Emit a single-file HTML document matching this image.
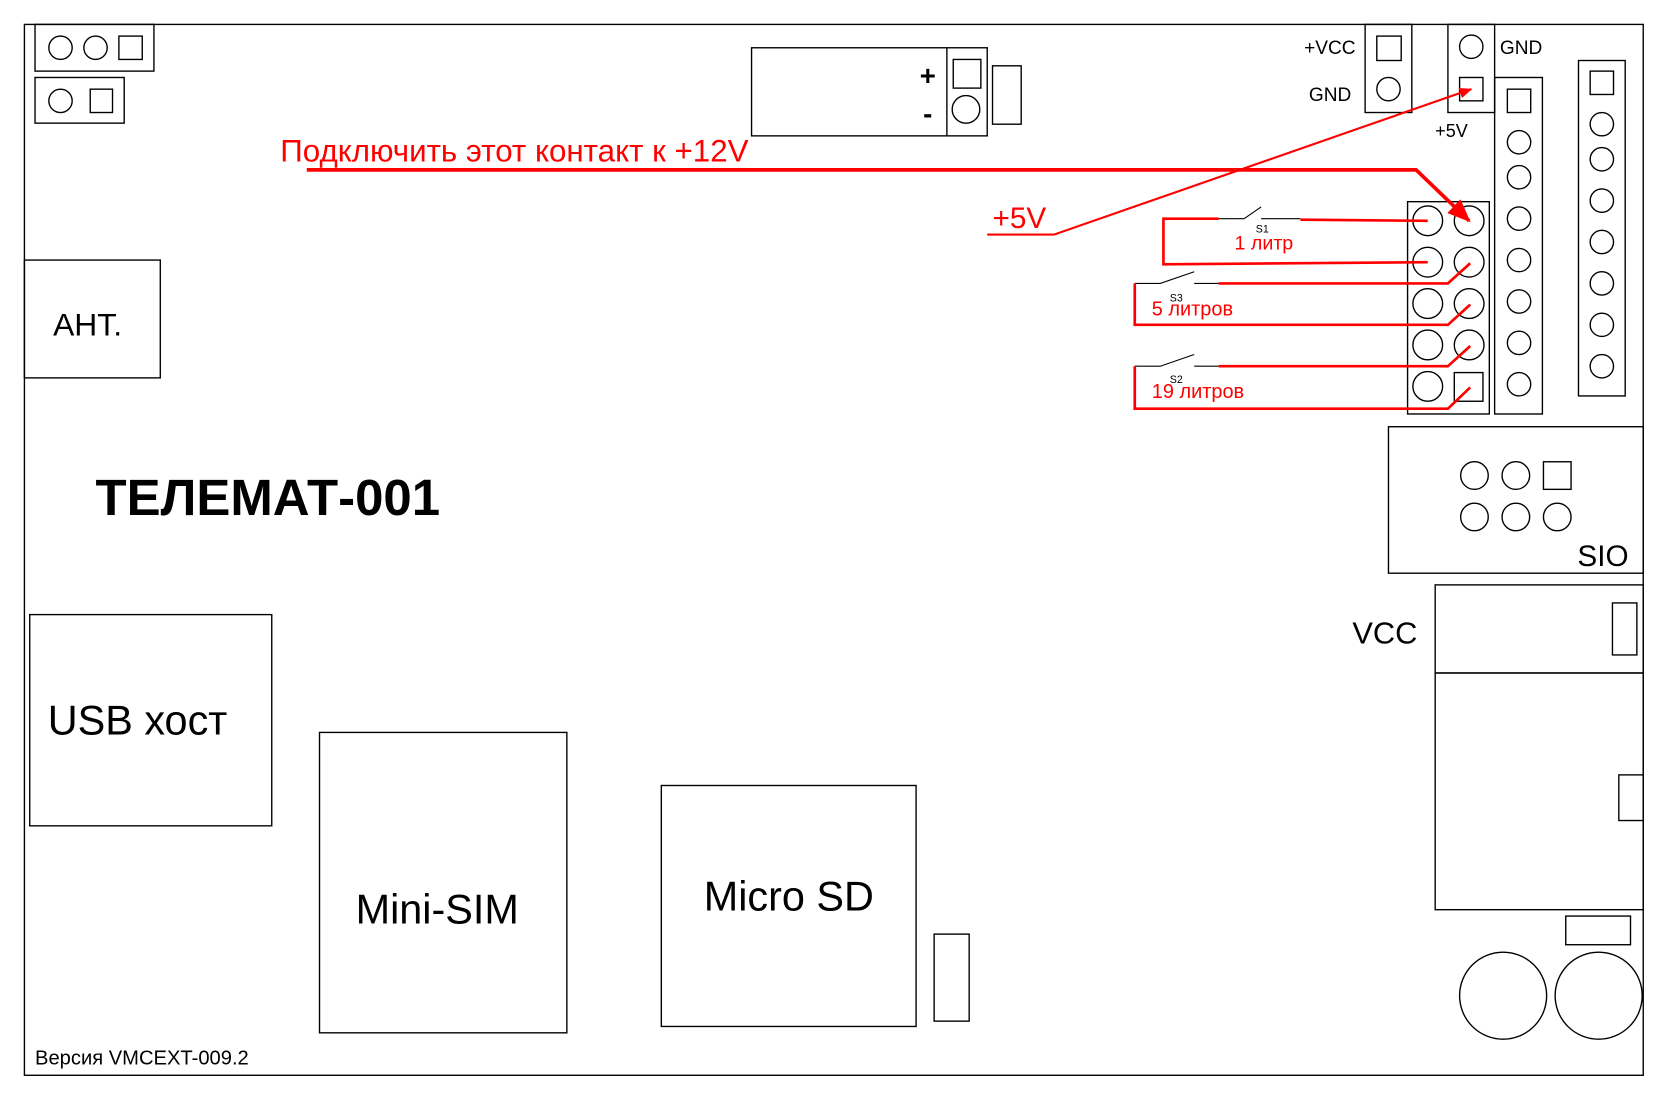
<!DOCTYPE html>
<html><head><meta charset="utf-8"><style>
html,body{margin:0;padding:0;background:#fff;width:1665px;height:1098px;overflow:hidden}
svg{display:block}
text{font-family:"Liberation Sans","DejaVu Sans",sans-serif}
</style></head><body>
<svg width="1665" height="1098" viewBox="0 0 1568.5 1034.4" preserveAspectRatio="none" xmlns="http://www.w3.org/2000/svg">
<defs>
<marker id="ah" markerWidth="12" markerHeight="10" refX="11" refY="5" orient="auto" markerUnits="userSpaceOnUse" viewBox="0 0 12 10"><path d="M0,0 L12,5 L0,10 Z" fill="#f00"/></marker>
<marker id="ah2" markerWidth="22" markerHeight="22" refX="20" refY="11" orient="auto" markerUnits="userSpaceOnUse" viewBox="0 0 22 22"><path d="M0,2 L22,11 L0,20 Z" fill="#f00"/></marker>
</defs>
<g fill="none" stroke="#000" stroke-width="1.3">
<rect x="23" y="23" width="1525" height="990"/>
<rect x="33" y="23" width="112" height="44"/>
<ellipse cx="57" cy="45" rx="11" ry="11"/><ellipse cx="90" cy="45" rx="11" ry="11"/>
<rect x="112" y="34" width="22" height="22"/>
<rect x="33" y="73" width="84" height="43"/>
<circle cx="57" cy="95" r="11"/><rect x="85" y="84" width="21" height="22"/>
<rect x="708" y="45" width="222" height="83"/>
<line x1="892" y1="45" x2="892" y2="128"/>
<rect x="898" y="56" width="26" height="27"/><circle cx="910" cy="103" r="13"/>
<rect x="935" y="62" width="27" height="55"/>
<rect x="1286" y="23" width="44" height="83"/>
<rect x="1297" y="34" width="23" height="23"/><circle cx="1308" cy="84" r="11"/>
<rect x="1364" y="23" width="44" height="83"/>
<circle cx="1386" cy="44" r="11"/><rect x="1375" y="73" width="22" height="22"/>
<rect x="1408" y="73" width="45" height="317"/>
<rect x="1420" y="84" width="22" height="22"/>
<circle cx="1431" cy="134" r="11"/><circle cx="1431" cy="167" r="11"/><circle cx="1431" cy="206" r="11"/><circle cx="1431" cy="245" r="11"/><circle cx="1431" cy="284" r="11"/><circle cx="1431" cy="323" r="11"/><circle cx="1431" cy="362" r="11"/>
<rect x="1487" y="57" width="44" height="316"/>
<rect x="1498" y="67" width="22" height="22"/>
<circle cx="1509" cy="117" r="11"/><circle cx="1509" cy="150" r="11"/><circle cx="1509" cy="189" r="11"/><circle cx="1509" cy="228" r="11"/><circle cx="1509" cy="267" r="11"/><circle cx="1509" cy="306" r="11"/><circle cx="1509" cy="345" r="11"/>
<rect x="1326" y="190" width="77" height="200"/>
<circle cx="1345" cy="208" r="14"/><circle cx="1384" cy="208" r="14"/>
<circle cx="1345" cy="247" r="14"/><circle cx="1384" cy="247" r="14"/>
<circle cx="1345" cy="286" r="14"/><circle cx="1384" cy="286" r="14"/>
<circle cx="1345" cy="325" r="14"/><circle cx="1384" cy="325" r="14"/>
<circle cx="1345" cy="364" r="14"/><rect x="1370" y="351" width="27" height="27"/>
<rect x="23" y="245" width="128" height="111"/>
<rect x="1308" y="402" width="240" height="138"/>
<circle cx="1389" cy="448" r="13"/><circle cx="1428" cy="448" r="13"/><rect x="1454" y="435" width="26" height="26"/>
<circle cx="1389" cy="487" r="13"/><circle cx="1428" cy="487" r="13"/><circle cx="1467" cy="487" r="13"/>
<rect x="1352" y="551" width="196" height="83"/>
<rect x="1519" y="568" width="23" height="49"/>
<rect x="1352" y="634" width="196" height="223"/>
<rect x="1525" y="730" width="23" height="43"/>
<rect x="1475" y="863" width="61" height="27"/>
<circle cx="1416" cy="938" r="41"/><circle cx="1506" cy="938" r="41"/>
<rect x="28" y="579" width="228" height="199"/>
<rect x="301" y="690" width="233" height="283"/>
<rect x="623" y="740" width="240" height="227"/>
<rect x="880" y="880" width="33" height="82"/>
<polyline points="1148,206 1172,206 1188,195" stroke-width="1"/><line x1="1188" y1="206" x2="1225" y2="206" stroke-width="1"/>
<polyline points="1069,267 1093,267 1125,256" stroke-width="1"/><line x1="1125" y1="267" x2="1148" y2="267" stroke-width="1"/>
<polyline points="1069,345 1093,345 1125,334" stroke-width="1"/><line x1="1125" y1="345" x2="1148" y2="345" stroke-width="1"/>
</g>
<g fill="#000">
<text x="874" y="80" font-size="26" font-weight="bold" text-anchor="middle">+</text>
<text x="874" y="116" font-size="26" font-weight="bold" text-anchor="middle">-</text>
<text x="1277" y="51" font-size="18" text-anchor="end">+VCC</text>
<text x="1273" y="95" font-size="18" text-anchor="end">GND</text>
<text x="1413" y="51" font-size="18">GND</text>
<text x="1352" y="129" font-size="17">+5V</text>
<text x="50" y="316" font-size="30">АНТ.</text>
<text x="90" y="485" font-size="48" font-weight="bold">ТЕЛЕМАТ-001</text>
<text x="1486" y="533" font-size="28">SIO</text>
<text x="1274" y="606" font-size="29">VCC</text>
<text x="45" y="692" font-size="39">USB хост</text>
<text x="335" y="870" font-size="39">Mini-SIM</text>
<text x="663" y="858" font-size="39">Micro SD</text>
<text x="33" y="1003" font-size="19">Версия VMCEXT-009.2</text>
<text x="1183" y="219" font-size="10">S1</text>
<text x="1102" y="284" font-size="10">S3</text>
<text x="1102" y="361" font-size="10">S2</text>
</g>
<g fill="#f00">
<text x="264" y="152" font-size="29.5">Подключить этот контакт к +12V</text>
<text x="935" y="215" font-size="28">+5V</text>
<text x="1163" y="235" font-size="18.5">1 литр</text>
<text x="1085" y="297" font-size="18.8">5 литров</text>
<text x="1085" y="375" font-size="18.8">19 литров</text>
</g>
<g fill="none" stroke="#f00">
<polyline points="289,160 1334,160 1384,208" stroke-width="3.5" marker-end="url(#ah2)"/>
<polyline points="930,221 993,221 1386,84" stroke-width="2" marker-end="url(#ah)"/>
<polyline points="1148,206 1096,206 1096,249 1345,247" stroke-width="2.5"/>
<line x1="1225" y1="207" x2="1345" y2="208" stroke-width="2.5"/>
<polyline points="1148,267 1364,267 1385,248" stroke-width="2.5"/>
<polyline points="1069,267 1069,306 1364,306 1385,287" stroke-width="2.5"/>
<polyline points="1148,345 1364,345 1385,326" stroke-width="2.5"/>
<polyline points="1069,345 1069,385 1364,385 1385,365" stroke-width="2.5"/>
</g>
</svg>
</body></html>
